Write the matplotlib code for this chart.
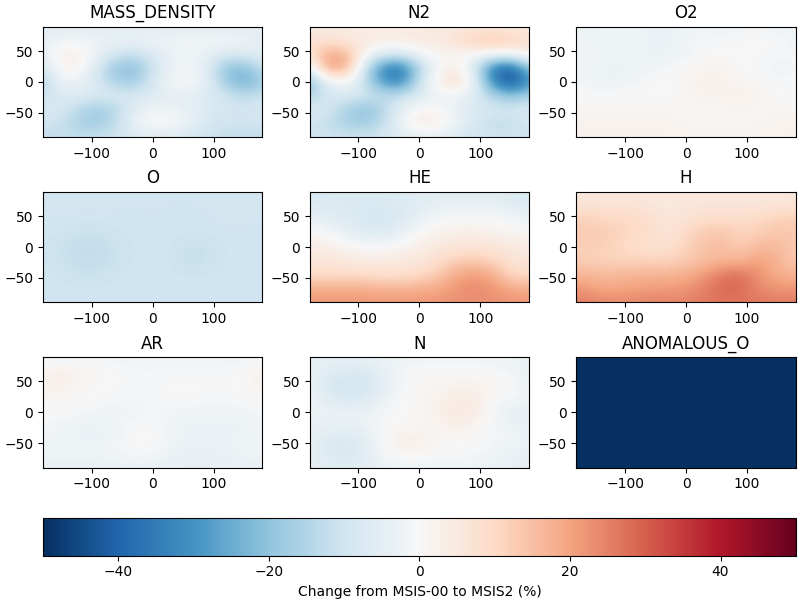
import numpy as np
import matplotlib
matplotlib.use("Agg")
import matplotlib.pyplot as plt

lons = [-180, -150, -120, -90, -60, -30, 0, 30, 60, 90, 120, 150, 180]
lats = [90, 67.5, 45, 22.5, 0, -22.5, -45, -67.5, -90]
names = ["MASS_DENSITY", "N2", "O2", "O", "HE", "H", "AR", "N", "ANOMALOUS_O"]
cbar_label = "Change from MSIS-00 to MSIS2 (%)"

mass_density = [
    [-6, -6, -6, -6, -6, -6, -6, -6, -6, -6, -6, -6, -6],
    [-4, -2, -2, -3, -3, -3, -2, -2, -1, -1, -1, -2, -4],
    [-5, 3, 3, -3, -9, -11, -7, -3, -2, -4, -7, -7, -5],
    [-8, 2, 2, -9, -20, -21, -11, -3, -1, -7, -20, -21, -11],
    [-15, -3, -3, -9, -16, -18, -8, -1, 0, -5, -18, -26, -17],
    [-11, -7, -7, -7, -8, -8, -7, -5, -5, -7, -10, -13, -11],
    [-8, -8, -14, -18, -14, -6, -2, -2, -5, -7, -9, -9, -8],
    [-10, -11, -16, -18, -12, -3, 1, 0, -3, -8, -10, -10, -10],
    [-12, -12, -12, -11, -10, -8, -7, -7, -9, -11, -12, -12, -12],
]
n2 = [
    [4, 4, 4, 4, 4, 4, 4, 4, 4, 4, 4, 4, 4],
    [7, 7, 5, 4, 4, 4, 5, 5, 8, 13, 15, 12, 8],
    [8, 19, 17, 1, -6, -7, -1, 1, 1, 0, -1, 0, 4],
    [-4, 21, 19, -10, -33, -36, -15, 0, 3, -8, -35, -40, -18],
    [-21, -4, 0, -12, -30, -33, -10, 3, 10, -4, -33, -45, -30],
    [-15, -9, -7, -9, -12, -12, -7, -3, -2, -7, -15, -21, -16],
    [-7, -9, -16, -21, -15, -4, 1, 0, -4, -7, -9, -8, -7],
    [-10, -12, -16, -18, -12, -2, 5, 3, -2, -9, -12, -12, -10],
    [-10, -10, -10, -10, -9, -7, -5, -5, -8, -10, -10, -10, -10],
]
o2 = [
    [-3, -3, -2, -2, -3, -3, -2, -2, -2, -2, -2, -2, -3],
    [-2, -2, -2, -2, -3, -3, -2, -1, -1, 0, 0, 0, -2],
    [-1, -2, -2, -2, -3, -3, -2, 0, 0, 0, 0, -1, -1],
    [-1, -2, -3, -3, -2, -1, 0, 2, 2, 0, -1, -2, -1],
    [-1, -3, -3, -2, 0, 0, 1, 3, 2, 1, 0, -1, -1],
    [0, 0, 0, 0, 0, 0, 1, 2, 2, 3, 2, 0, 0],
    [1, 1, 1, 1, 1, 1, 1, 1, 1, 1, 1, 1, 1],
    [2, 2, 2, 2, 2, 2, 1, 1, 1, 1, 1, 2, 2],
    [2, 2, 2, 2, 2, 2, 2, 2, 2, 2, 2, 2, 2],
]
o = [
    [-9, -9, -9, -9, -9, -9, -9, -9, -9, -9, -9, -9, -9],
    [-9, -9, -9, -9, -9, -10, -9, -10, -10, -9, -9, -9, -9],
    [-10, -10, -10, -10, -10, -10, -10, -10, -10, -10, -9, -9, -10],
    [-10, -10, -11, -11, -10, -10, -10, -10, -10, -10, -10, -10, -10],
    [-10, -11, -12, -12, -11, -10, -10, -10, -11, -11, -10, -10, -10],
    [-10, -11, -12, -12, -11, -10, -10, -10, -12, -11, -10, -10, -10],
    [-10, -10, -11, -11, -10, -10, -10, -10, -10, -10, -10, -10, -10],
    [-10, -10, -10, -10, -10, -10, -10, -10, -10, -10, -10, -10, -10],
    [-10, -10, -10, -10, -10, -10, -10, -10, -10, -10, -10, -10, -10],
]
he = [
    [-8, -8, -7, -7, -7, -7, -6, -6, -6, -6, -6, -7, -8],
    [-7, -7, -7, -8, -7, -7, -6, -4, -4, -4, -4, -6, -7],
    [-4, -6, -7, -8, -9, -7, -4, -1, 0, 0, 0, -1, -4],
    [1, -1, -4, -7, -7, -4, 1, 2, 3, 3, 2, 1, 1],
    [4, 3, 1, 0, 0, 1, 3, 5, 6, 7, 6, 5, 4],
    [6, 6, 5, 4, 4, 5, 6, 9, 12, 13, 11, 7, 6],
    [9, 9, 9, 9, 8, 8, 9, 13, 19, 21, 18, 10, 9],
    [18, 18, 18, 18, 17, 17, 18, 19, 22, 24, 22, 19, 18],
    [22, 22, 22, 22, 22, 22, 22, 22, 23, 23, 23, 22, 22],
]
h = [
    [5, 5, 5, 5, 5, 5, 5, 5, 5, 5, 5, 5, 5],
    [7, 7, 7, 7, 6, 5, 6, 6, 6, 6, 6, 6, 7],
    [12, 11, 10, 10, 9, 6, 7, 9, 9, 9, 10, 12, 12],
    [13, 13, 12, 10, 9, 6, 10, 13, 14, 11, 12, 14, 13],
    [12, 12, 11, 9, 8, 8, 11, 15, 15, 13, 16, 16, 13],
    [12, 12, 11, 11, 11, 11, 13, 15, 17, 16, 21, 17, 13],
    [17, 16, 16, 17, 17, 17, 18, 21, 26, 28, 22, 18, 17],
    [22, 20, 19, 20, 21, 21, 22, 25, 29, 28, 24, 22, 22],
    [26, 25, 24, 24, 25, 25, 25, 26, 27, 27, 26, 26, 26],
]
ar = [
    [-2, -2, -2, -2, -2, -2, -2, -2, -2, -2, -2, -2, -2],
    [2, 3, 2, 1, 0, -1, -1, -1, -1, -1, -1, 0, 3],
    [2, 3, 1, 0, 0, -1, -1, 0, 0, 0, 0, 0, 3],
    [1, 1, 0, 0, -1, -1, -1, 0, 0, -1, -1, 0, 0],
    [-1, 0, -1, -2, -2, -2, -1, -2, -2, -2, -2, -2, -1],
    [-1, -2, -3, -3, -2, 0, 0, -2, -3, -3, -3, -3, -1],
    [-2, -2, -3, -3, -2, 0, 0, -2, -3, -3, -3, -2, -2],
    [-2, -2, -2, -2, -1, 0, -1, -3, -4, -4, -3, -2, -2],
    [-4, -4, -4, -4, -4, -4, -4, -4, -4, -4, -4, -4, -4],
]
n = [
    [-4, -4, -4, -4, -3, -3, -2, -2, -2, -2, -2, -2, -4],
    [-4, -6, -7, -7, -4, -1, 0, 0, 0, 0, -1, -2, -4],
    [-3, -8, -10, -10, -6, -1, 1, 1, 2, 2, 2, 0, -3],
    [-2, -6, -8, -7, -3, 0, 1, 2, 4, 4, 0, -1, -2],
    [-2, -3, -3, -3, -1, 0, 1, 3, 5, 4, -1, -5, -4],
    [-3, -4, -4, -3, 0, 0, 1, 1, 3, 1, -1, -3, -3],
    [-4, -7, -8, -6, 0, 4, 3, 1, 0, 0, -1, -2, -3],
    [-4, -7, -8, -6, -1, 1, 1, 0, 0, -1, -2, -3, -4],
    [-5, -5, -6, -5, -3, -3, -3, -3, -3, -3, -3, -4, -5],
]
anomalous_o = [[-50] * 13 for _ in lats]

panels = [mass_density, n2, o2, o, he, h, ar, n, anomalous_o]

fig, axarr = plt.subplots(nrows=3, ncols=3, constrained_layout=True, figsize=(8, 6), dpi=100)
for ax, name, grid in zip(axarr.flat, names, panels):
    im = ax.imshow(
        np.array(grid, dtype=float),
        cmap="RdBu_r", vmin=-50, vmax=50, aspect="auto",
        interpolation="bicubic",
        extent=[lons[0] - 15, lons[-1] + 15, lats[-1] - 11.25, lats[0] + 11.25],
    )
    ax.set_xlim(lons[0], lons[-1])
    ax.set_ylim(lats[-1], lats[0])
    ax.set_title(name)
fig.colorbar(im, ax=axarr, label=cbar_label, orientation="horizontal")
fig.savefig("out.png", dpi=100)
